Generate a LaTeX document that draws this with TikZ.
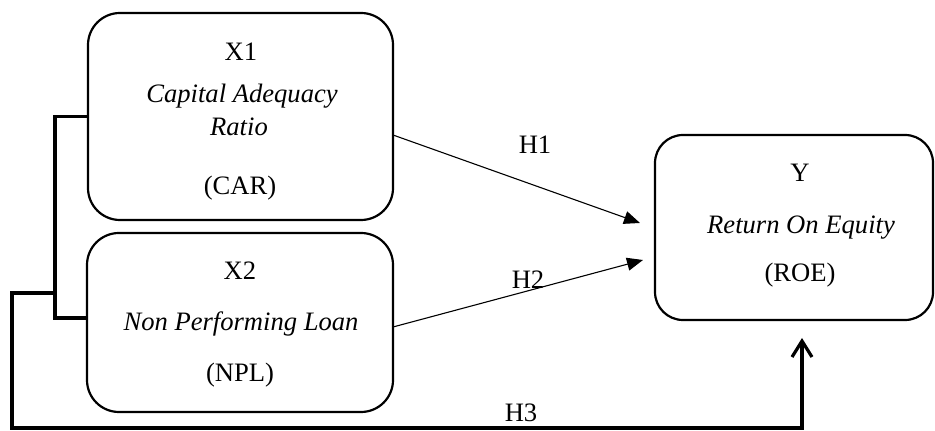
\documentclass[tikz,border=0pt]{standalone}
\usepackage{fontspec}
\setmainfont{Liberation Serif}
\usetikzlibrary{arrows.meta,calc}
\begin{document}
\begin{tikzpicture}[x=0.5pt,y=-0.5pt,
  box/.style={draw,line width=1.1pt,rounded corners=16pt,inner sep=0pt},
  txt/.style={font=\fontsize{13.3}{15}\selectfont,inner sep=0pt,anchor=center},
  thin arrow/.style={line width=0.55pt,-{Triangle[length=8pt,width=6.5pt]}},
  bracket/.style={line width=1.6pt},
  back arrow/.style={line width=1.6pt,-{Straight Barb[length=8pt,width=10pt]}}]
\useasboundingbox (0,0) rectangle (935,431);
\node[box,minimum width=152.5pt,minimum height=103.5pt] (X1) at (240.5,116.5) {};
\node[box,minimum width=153pt,minimum height=89.5pt] (X2) at (240,322.5) {};
\node[box,rounded corners=14pt,minimum width=139pt,minimum height=92.5pt] (Y) at (794,227.5) {};
% texts
\node[txt] (x1a) at (241,52) {X1};
\node[txt] (x1b) at (242,96) {\itshape Capital Adequacy};
\node[txt] (x1c) at (239,127) {\itshape Ratio};
\node[txt] (x1d) at (240,188) {(CAR)};
\node[txt] (x2a) at (240,271) {X2};
\node[txt] (x2b) at (241,324) {\itshape Non Performing Loan};
\node[txt] (x2d) at (240,375) {(NPL)};
\node[txt] (ya) at (800,173) {Y};
\node[txt] (yb) at (801,228) {\itshape Return On Equity};
\node[txt] (yc) at (800,275) {(ROE)};
\node[txt] (h1) at (535,145) {H1};
\node[txt] (h2) at (528,280) {H2};
\node[txt] (h3) at (521,413) {H3};
% coordinates
\coordinate (h1s) at (393,135);
\coordinate (h1e) at (640,223);
\coordinate (h2s) at (393,327);
\coordinate (h2e) at (643,260);
\coordinate (b1) at (55,116.5);
\coordinate (b2) at (55,318);
\coordinate (c1) at (55,293);
\coordinate (c2) at (12,293);
\coordinate (c3) at (12,428);
\coordinate (c4) at (802,428);
\coordinate (c5) at (802,338);
% connectors
\draw[thin arrow] (h1s) -- (h1e);
\draw[thin arrow] (h2s) -- (h2e);
\draw[bracket] (X1.west) -- (b1) -- (b2) -- (b2 -| X2.west);
\draw[back arrow] (c1) -- (c2) -- (c3) -- (c4) -- (c5);
\end{tikzpicture}
\end{document}
